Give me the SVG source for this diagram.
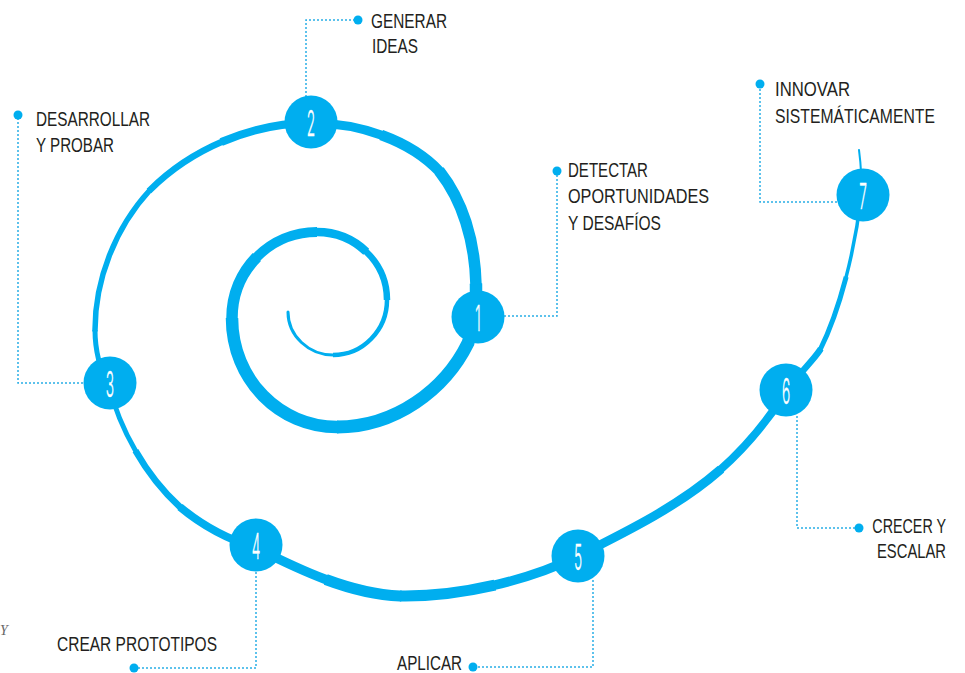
<svg xmlns="http://www.w3.org/2000/svg" width="965" height="673" viewBox="0 0 965 673">
<style>
.sp{fill:none;stroke:#00aeef;stroke-linecap:butt;stroke-linejoin:round}
.tip{stroke-linecap:round}
.ld{fill:none;stroke:#29aee6;stroke-width:1.5;stroke-dasharray:2 2}
.dot{fill:#00aeef}
.nc{fill:#00aeef}
.num{font-family:Inter,"DejaVu Sans",sans-serif;font-weight:300;font-size:36px;fill:#ffffff;stroke:#ffffff;stroke-width:0.4;text-anchor:middle}
.lb{font-family:"Liberation Sans",Arial,sans-serif;font-size:19.5px;fill:#231f20}
.end{text-anchor:end}
</style>
<rect width="965" height="673" fill="#ffffff"/>
<g id="spiral">
<path class="sp tip" stroke-width="3" d="M288,312 C288,336 309,355 333,355 l1.5,0"/>
<path class="sp" stroke-width="4.5" d="M333,355 C363,355 387,330 387,300 l0,-1.5"/>
<path class="sp" stroke-width="6.5" d="M387,300 C387,281 379,264 366.25,251.75 l-1.1,-1.05"/>
<path class="sp" stroke-width="8.5" d="M366.25,251.75 C353.5,239.5 336,232 317,232 l-1.5,0"/>
<path class="sp" stroke-width="10" d="M317,232 C293.5,232 272.25,241.5 256.9,257 l-1.05,1.06"/>
<path class="sp" stroke-width="11.5" d="M256.9,257 C241.5,272.5 232,294 232,318 l0,1.5"/>
<path class="sp" stroke-width="12.5" d="M232,318 C232,380 280,427 337,427 l1.5,0"/>
<path class="sp" stroke-width="13" d="M337,427 C395,427 445,390 468,343 l0.66,-1.35"/>
<path class="sp" stroke-width="12.5" d="M468,343 C474,330 477,305 476,285 l-0.07,-1.5"/>
<path class="sp" stroke-width="11.5" d="M476,285 C475,240 462,200 440,172 l-0.93,-1.18"/>
<path class="sp" stroke-width="10.5" d="M440,172 C425,156 405,143.75 382.6,135.5 l-1.4,-0.52"/>
<path class="sp" stroke-width="9" d="M382.6,135.5 C360.25,127.25 335.5,123 311,123 l-1.5,0"/>
<path class="sp" stroke-width="8" d="M311,123 C280.5,123 250.25,129.75 222.6,141.5 l-1.38,0.59"/>
<path class="sp" stroke-width="6.5" d="M222.6,141.5 C195,153.25 170,170 150,190 l-1.06,1.06"/>
<path class="sp" stroke-width="5.5" d="M150,190 C115,228 95,280 95,330 l0,1.5"/>
<path class="sp" stroke-width="5" d="M95,330 C95,350 100,370 108,383 l0.79,1.28"/>
<path class="sp" stroke-width="5" d="M108,383 C114,406.5 123.25,429.5 135.4,450.6 l0.75,1.3"/>
<path class="sp" stroke-width="6.5" d="M135.4,450.6 C147.5,471.75 162.5,491 180,507 l1.1,1"/>
<path class="sp" stroke-width="8" d="M180,507 C205,528 230,540 256,548 l1.43,0.44"/>
<path class="sp" stroke-width="9.5" d="M256,548 C278,559 301.5,570.5 325.75,579.5 l1.4,0.52"/>
<path class="sp" stroke-width="11" d="M325.75,579.5 C350,588.5 375,595 400,596 l1.5,0.06"/>
<path class="sp" stroke-width="11" d="M400,596 C430,596.5 462.5,592.5 493.5,585.4 l1.46,-0.33"/>
<path class="sp" stroke-width="9.5" d="M493.5,585.4 C524.5,578.25 554,568 578,556 l1.34,-0.67"/>
<path class="sp" stroke-width="9" d="M578,556 C630,530 680,505 720,470 l1.13,-0.99"/>
<path class="sp" stroke-width="8" d="M720,470 C745,448 768,420 786,392 l0.81,-1.26"/>
<path class="sp" stroke-width="6.5" d="M786,392 C800,372 812,362 820,350 l0.83,-1.25"/>
<path class="sp" stroke-width="5" d="M820,350 C830,330 838.75,305 845.75,278.4 l0.38,-1.45"/>
<path class="sp" stroke-width="3.5" d="M845.75,278.4 C852.75,251.75 858,223.5 861,197 l0.17,-1.49"/>
<path class="sp tip" stroke-width="2" d="M861,197 C862,180 861,165 859,150"/>
</g>
<g id="connectors">
<path class="ld" d="M504,316 H557 V171"/>
<circle class="dot" cx="557" cy="171" r="4.5"/>
<path class="ld" d="M306,97 V20 H358"/>
<circle class="dot" cx="358" cy="20" r="4.5"/>
<path class="ld" d="M83,383 H18 V115"/>
<circle class="dot" cx="18" cy="115" r="4.5"/>
<path class="ld" d="M256,572 V668 H134"/>
<circle class="dot" cx="134" cy="668" r="4.5"/>
<path class="ld" d="M593,580 V667 H473"/>
<circle class="dot" cx="473" cy="667" r="4.5"/>
<path class="ld" d="M797,416 V528 H859"/>
<circle class="dot" cx="859" cy="528" r="4.5"/>
<path class="ld" d="M837,202 H760 V84"/>
<circle class="dot" cx="760" cy="84" r="4.5"/>
</g>
<g id="node1">
<circle class="nc" cx="478" cy="317" r="26.5"/>
<text class="num" transform="translate(478,331) scale(0.38,1)">1</text>
<text class="lb" x="568" y="177" textLength="80" lengthAdjust="spacingAndGlyphs">DETECTAR</text>
<text class="lb" x="568" y="203" textLength="141" lengthAdjust="spacingAndGlyphs">OPORTUNIDADES</text>
<text class="lb" x="568" y="230" textLength="93" lengthAdjust="spacingAndGlyphs">Y DESAFÍOS</text>
</g>
<g id="node2">
<circle class="nc" cx="311" cy="122" r="26.5"/>
<text class="num" transform="translate(311,136) scale(0.38,1)">2</text>
<text class="lb" x="371" y="28" textLength="76" lengthAdjust="spacingAndGlyphs">GENERAR</text>
<text class="lb" x="372" y="53" textLength="46" lengthAdjust="spacingAndGlyphs">IDEAS</text>
</g>
<g id="node3">
<circle class="nc" cx="110" cy="383" r="26.5"/>
<text class="num" transform="translate(110,397) scale(0.38,1)">3</text>
<text class="lb" x="36" y="126" textLength="114" lengthAdjust="spacingAndGlyphs">DESARROLLAR</text>
<text class="lb" x="36" y="152" textLength="78" lengthAdjust="spacingAndGlyphs">Y PROBAR</text>
</g>
<g id="node4">
<circle class="nc" cx="256" cy="545" r="26.5"/>
<text class="num" transform="translate(256,559) scale(0.38,1)">4</text>
<text class="lb" x="57" y="651" textLength="160" lengthAdjust="spacingAndGlyphs">CREAR PROTOTIPOS</text>
</g>
<g id="node5">
<circle class="nc" cx="578" cy="556" r="26.5"/>
<text class="num" transform="translate(578,570) scale(0.38,1)">5</text>
<text class="lb" x="397" y="670" textLength="65" lengthAdjust="spacingAndGlyphs">APLICAR</text>
</g>
<g id="node6">
<circle class="nc" cx="786" cy="390" r="26.5"/>
<text class="num" transform="translate(786,404) scale(0.38,1)">6</text>
<text class="lb end" transform="translate(946,533) scale(0.734,1)">CRECER Y</text>
<text class="lb end" transform="translate(946,558) scale(0.758,1)">ESCALAR</text>
</g>
<g id="node7">
<circle class="nc" cx="863" cy="195" r="26.5"/>
<text class="num" transform="translate(863,209) scale(0.38,1)">7</text>
<text class="lb" x="775" y="96" textLength="75" lengthAdjust="spacingAndGlyphs">INNOVAR</text>
<text class="lb" transform="translate(775,123) scale(0.807,1)">SISTEMÁTICAMENTE</text>
</g>
<text x="0" y="635" font-family="'Liberation Serif',serif" font-style="italic" font-size="14" fill="#666666">Y</text>
</svg>
